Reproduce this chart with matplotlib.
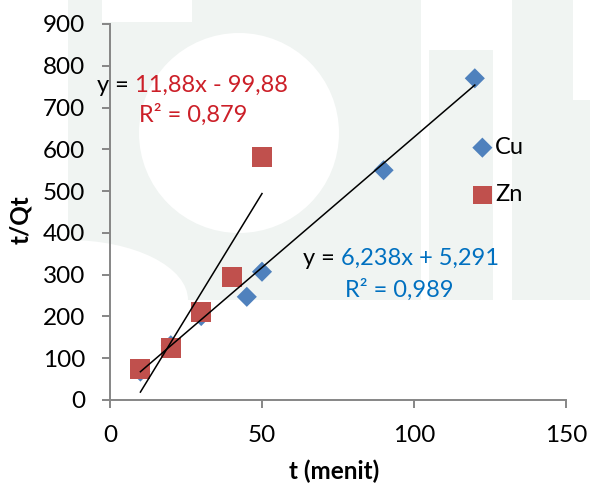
import matplotlib
matplotlib.use("Agg")
import matplotlib.pyplot as plt
from matplotlib.patches import Rectangle, Ellipse
import numpy as np

plt.rcParams['font.family'] = ['Lato', 'DejaVu Sans']

# data
cu_t = [10, 20, 30, 45, 50, 90, 120]
cu_y = [68, 131, 201, 247, 307, 550, 770]
zn_t = [10, 20, 30, 40, 50]
zn_y = [74, 124, 210, 295, 581]
cu_fit = [6.238, 5.291]      # slope, intercept
zn_fit = [11.88, -99.88]
cu_eq = "6,238x + 5,291"
zn_eq = "11,88x - 99,88"
cu_r2 = "0,989"
zn_r2 = "0,879"
x_ticks = [0, 50, 100, 150]
y_ticks = [0, 100, 200, 300, 400, 500, 600, 700, 800, 900]

W, H = 590, 484
fig = plt.figure(figsize=(W/100, H/100), dpi=100)
fig.patch.set_facecolor('white')

# faint watermark background (pixel geometry, top-left origin)
wm = '#F0F4F2'
def prect(x0, y0, x1, y1, c):
    fig.patches.append(Rectangle((x0/W, 1-y1/H), (x1-x0)/W, (y1-y0)/H,
                                 transform=fig.transFigure, facecolor=c,
                                 edgecolor='none', zorder=-10))
def pell(cx, cy, w, h, c):
    fig.patches.append(Ellipse((cx/W, 1-cy/H), w/W, h/H, transform=fig.transFigure,
                               facecolor=c, edgecolor='none', zorder=-9))
prect(68, 0, 421, 300, wm)
prect(429, 50, 493, 300, wm)
prect(512, 0, 573, 300, wm)
prect(573, 100, 590, 300, wm)
prect(102, 0, 192, 22, 'white')
pell(239, 133, 200, 200, 'white')
pell(68, 300, 240, 120, 'white')

ax = fig.add_axes([110/W, 1-400/H, 456/W, 376/H])
ax.set_facecolor('none')

blue = '#4F81BD'
red = '#C0504D'
ax.scatter(cu_t, cu_y, marker='D', s=105, color=blue, edgecolors='none', zorder=3, label='Cu')
ax.scatter(zn_t, zn_y, marker='s', s=207, color=red, edgecolors='none', zorder=4, label='Zn')

for t, fit in [(cu_t, cu_fit), (zn_t, zn_fit)]:
    xs = np.array([min(t), max(t)])
    ax.plot(xs, fit[0]*xs + fit[1], color='black', lw=1.1, zorder=5)

ax.set_xlim(0, 150)
ax.set_ylim(0, 900)
ax.set_xticks(x_ticks)
ax.set_yticks(y_ticks)
for s in ['top', 'right']:
    ax.spines[s].set_visible(False)
for s in ['left', 'bottom']:
    ax.spines[s].set_color('#868686')
    ax.spines[s].set_linewidth(1.4)
fs = 17.5
ax.tick_params(axis='both', direction='out', length=5.8, width=1.4, color='#868686',
               labelsize=fs, labelcolor='black', pad=12)
ax.set_xlabel('t (menit)', fontsize=fs, fontweight='bold')
ax.set_ylabel('t/Qt', fontsize=fs, fontweight='bold')
ax.xaxis.set_label_coords(0.491, -0.19)
ax.yaxis.set_label_coords(-0.195, 0.48)
ax.xaxis.label.set_va('center')
ax.yaxis.label.set_va('center')

fe = 17
red_txt = '#CC1F28'
blue_txt = '#0070C0'
t1 = ax.text(-4.3, 737, 'y = ', fontsize=fe, color='black', va='baseline', ha='left')
ax.annotate(zn_eq, xy=(1, 0), xycoords=t1, va='bottom', ha='left',
            fontsize=fe, color=red_txt)
ax.text(9.5, 665, 'R² = ' + zn_r2, fontsize=fe, color=red_txt, va='baseline', ha='left')

t2 = ax.text(63.5, 323, 'y = ', fontsize=fe, color='black', va='baseline', ha='left')
ax.annotate(cu_eq, xy=(1, 0), xycoords=t2, va='bottom', ha='left',
            fontsize=fe, color=blue_txt)
ax.text(77.3, 246.5, 'R² = ' + cu_r2, fontsize=fe, color=blue_txt, va='baseline', ha='left')

leg = ax.legend(loc='upper left', bbox_to_anchor=(0.770, 0.725), frameon=False,
                fontsize=fe, handletextpad=0.05, labelspacing=1.12, handlelength=1.0,
                scatterpoints=1, borderaxespad=0)
leg.legend_handles[1].set_sizes([175])

fig.savefig('out.png', dpi=100)
